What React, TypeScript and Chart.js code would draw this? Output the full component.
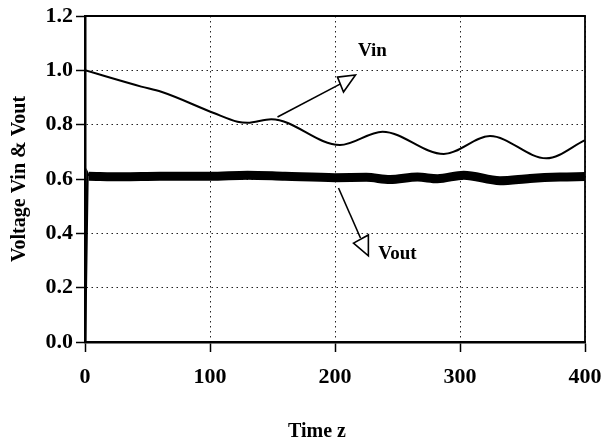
import React, { useEffect, useRef } from 'react';
import { Chart, registerables } from 'chart.js';

Chart.register(...registerables);

// ---- data ----
const timeMin = 0;
const timeMax = 400;
const timeStep = 100;
const voltMin = 0;
const voltMax = 1.2;
const voltStep = 0.2;

const vinTime = [0, 45, 61, 103, 122, 130, 149, 204, 238, 287, 324, 369, 400];
const vinValues = [1.0, 0.94, 0.921, 0.843, 0.811, 0.807, 0.82, 0.725, 0.774, 0.692, 0.758, 0.676, 0.743];

const voutRiseTime = [0, 2, 3];
const voutRiseValues = [0, 0.62, 0.61];

const voutTime = [3, 30, 60, 100, 130, 160, 200, 225, 244, 266, 282, 303, 332, 356, 380, 400];
const voutValues = [0.61, 0.608, 0.61, 0.61, 0.614, 0.61, 0.605, 0.606, 0.598, 0.607, 0.601, 0.614, 0.594, 0.602, 0.607, 0.609];

const xTitle = 'Time z';
const yTitle = 'Voltage Vin & Vout';
const vinLabel = 'Vin';
const voutLabel = 'Vout';

// annotation anchors in data units [time, voltage]
const vinLabelAt = [230, 1.071];
const vinArrowFrom = [154, 0.828];
const vinArrowTo = [204.4, 0.95];
const vinTriangle = [[202, 0.975], [216.4, 0.983], [206.8, 0.92]];
const voutLabelAt = [250, 0.324];
const voutArrowFrom = [202.8, 0.567];
const voutArrowTo = [220.4, 0.383];
const voutTriangle = [[214.8, 0.364], [226.7, 0.394], [226.7, 0.317]];

const FONT = '"Liberation Serif", "Times New Roman", serif';

const toPoints = (xs: number[], ys: number[]) => xs.map((x, i) => ({ x, y: ys[i] }));

const annotationPlugin = {
  id: 'paperAnnotations',
  afterDatasetsDraw(chart: any) {
    const { ctx, chartArea: a, scales } = chart;
    const x = scales.x;
    const y = scales.y;
    const P = (p: number[]) => [x.getPixelForValue(p[0]), y.getPixelForValue(p[1])];
    ctx.save();
    // top and right frame
    ctx.strokeStyle = '#000';
    ctx.lineWidth = 1.8;
    ctx.setLineDash([]);
    ctx.beginPath();
    ctx.moveTo(a.left, a.top);
    ctx.lineTo(a.right, a.top);
    ctx.lineTo(a.right, a.bottom);
    ctx.stroke();

    const line = (f: number[], t: number[]) => {
      const [x1, y1] = P(f);
      const [x2, y2] = P(t);
      ctx.lineWidth = 1.6;
      ctx.beginPath();
      ctx.moveTo(x1, y1);
      ctx.lineTo(x2, y2);
      ctx.stroke();
    };
    const tri = (pts: number[][]) => {
      ctx.lineWidth = 1.6;
      ctx.beginPath();
      pts.forEach((p, i) => {
        const [px, py] = P(p);
        if (i === 0) ctx.moveTo(px, py);
        else ctx.lineTo(px, py);
      });
      ctx.closePath();
      ctx.fillStyle = '#fff';
      ctx.fill();
      ctx.stroke();
    };
    line(vinArrowFrom, vinArrowTo);
    tri(vinTriangle);
    line(voutArrowFrom, voutArrowTo);
    tri(voutTriangle);

    ctx.fillStyle = '#000';
    ctx.font = `bold 19px ${FONT}`;
    ctx.textAlign = 'center';
    ctx.textBaseline = 'middle';
    let [lx, ly] = P(vinLabelAt);
    ctx.fillText(vinLabel, lx, ly);
    [lx, ly] = P(voutLabelAt);
    ctx.fillText(voutLabel, lx, ly);

    // x axis title
    ctx.font = `bold 20px ${FONT}`;
    ctx.textBaseline = 'alphabetic';
    ctx.fillText(xTitle, a.left + 232, a.bottom + 95);
    ctx.restore();
  },
};

export default function App() {
  const canvasRef = useRef<HTMLCanvasElement | null>(null);

  useEffect(() => {
    if (!canvasRef.current) return;
    const chart = new Chart(canvasRef.current, {
      type: 'line',
      data: {
        datasets: [
          {
            label: vinLabel,
            data: toPoints(vinTime, vinValues),
            borderColor: '#000',
            borderWidth: 2,
            pointRadius: 0,
            cubicInterpolationMode: 'monotone',
            fill: false,
          },
          {
            label: voutLabel + ' rise',
            data: toPoints(voutRiseTime, voutRiseValues),
            borderColor: '#000',
            borderWidth: 2.5,
            pointRadius: 0,
            tension: 0,
            fill: false,
          },
          {
            label: voutLabel,
            data: toPoints(voutTime, voutValues),
            borderColor: '#000',
            borderWidth: 9,
            pointRadius: 0,
            cubicInterpolationMode: 'monotone',
            fill: false,
          },
        ],
      },
      options: {
        responsive: false,
        animation: false,
        layout: { padding: { top: 16, right: 21, left: 0, bottom: 0 } },
        plugins: {
          legend: { display: false },
          tooltip: { enabled: false },
        },
        scales: {
          x: {
            type: 'linear',
            min: timeMin,
            max: timeMax,
            afterFit: (s: any) => {
              s.height = 101;
              s.paddingLeft = 0;
              s.paddingRight = 0;
            },
            ticks: {
              stepSize: timeStep,
              color: '#000',
              padding: 12,
              font: { family: FONT, size: 22, weight: 'bold' },
              maxRotation: 0,
            },
            grid: {
              color: '#222',
              lineWidth: 1,
              tickLength: 10,
              tickColor: '#000',
              tickWidth: 1.5,
            },
            border: { display: true, color: '#000', width: 2.5, dash: [1.5, 3.5] },
          },
          y: {
            type: 'linear',
            min: voltMin,
            max: voltMax,
            afterFit: (s: any) => {
              s.width = 85;
              s.paddingTop = 0;
              s.paddingBottom = 0;
            },
            ticks: {
              stepSize: voltStep,
              color: '#000',
              padding: 3,
              font: { family: FONT, size: 22, weight: 'bold' },
              callback: (v: any) => Number(v).toFixed(1),
            },
            grid: {
              color: '#222',
              lineWidth: 1,
              tickLength: 9,
              tickColor: '#000',
              tickWidth: 1.5,
            },
            border: { display: true, color: '#000', width: 2.5, dash: [1.5, 3.5] },
            title: {
              display: true,
              text: yTitle,
              color: '#000',
              font: { family: FONT, size: 20, weight: 'bold' },
              padding: { top: 8, bottom: 0 },
            },
          },
        },
      },
      plugins: [annotationPlugin],
    } as any);
    return () => chart.destroy();
  }, []);

  return (
    <div style={{ position: 'fixed', left: 0, top: 0, width: 606, height: 443, background: '#fff' }}>
      <canvas ref={canvasRef} width={606} height={443} />
    </div>
  );
}
